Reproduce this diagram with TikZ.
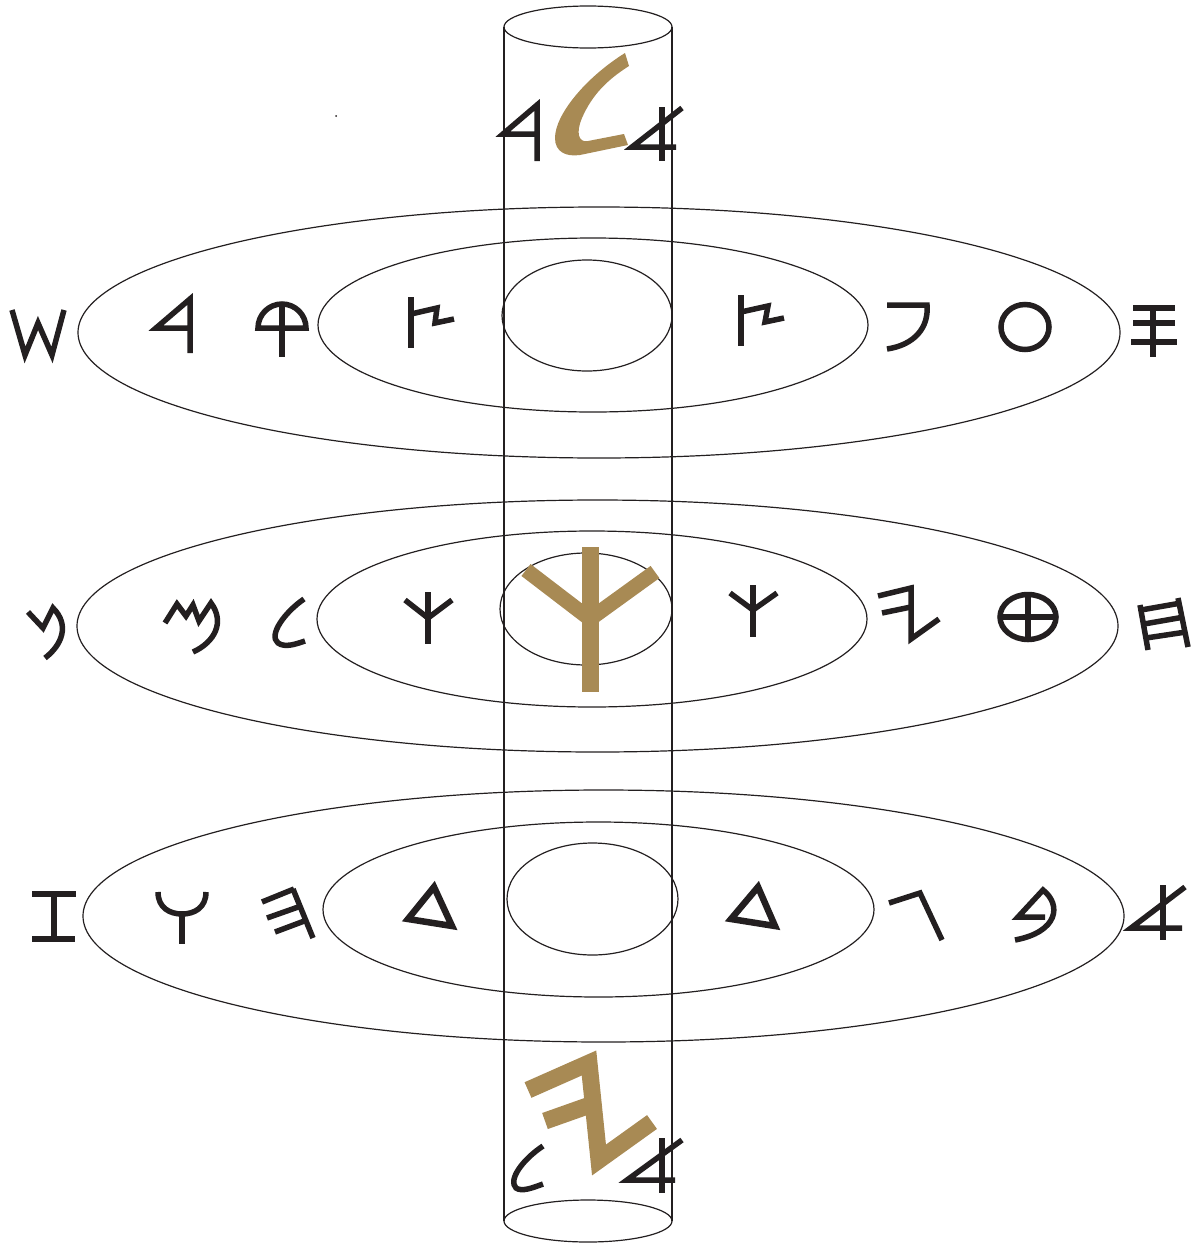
\documentclass[tikz,border=0pt]{standalone}
\usepackage{xcolor}
\usetikzlibrary{calc}
\definecolor{ink}{RGB}{35,31,32}
\definecolor{ochre}{RGB}{168,138,84}
\tikzset{
  rim/.style={draw=ink, line width=1.2},
  glyph/.style={draw=ink, line width=5.5, line join=miter},
  bigglyph/.style={draw=ochre, line width=17, line join=miter},
}

\begin{document}
\begin{tikzpicture}[x=1pt,y=-1pt]
\useasboundingbox (0,0) rectangle (1195,1245);

\coordinate (T) at (588,27);
\coordinate (B) at (588,1221);

% the column
\draw[rim] (T) ellipse[x radius=84, y radius=21];
\draw[rim] (B) ellipse[x radius=84, y radius=21];
\draw[rim] ($(T)+(-84,0)$) -- ($(B)+(-84,0)$);
\draw[rim] ($(T)+(84,0)$) -- ($(B)+(84,0)$);

% the three discs
\foreach \cx/\cy/\rx/\ry in {599/332.5/521/125.5, 593/325/275/87, 587/315.5/85/55.5,
  597.5/626/520.5/126, 592/619/275/88, 586/609/86/56,
  603.5/916/520.5/126, 598.5/909.5/275.5/87.5, 592.5/899/85.5/56}
  \draw[rim] (\cx,\cy) ellipse[x radius=\rx, y radius=\ry];

\fill[ink] (336,116) circle(1);

% top of the column
\draw[glyph] (537,161) -- (537,105) -- (503,134) -- (539,134);
\fill[ochre] (625,53) .. controls (585,78) and (555,115) .. (555,138)
  .. controls (555,152) and (566,157) .. (580,155) -- (628,145) -- (624,134)
  -- (588,141) .. controls (578,143) and (576,132) .. (582,118)
  .. controls (592,95) and (607,80) .. (629,66) -- cycle;
\draw[glyph] (662,107) -- (662,161);
\draw[glyph] (682,108) -- (632,147) -- (676,147);

% first disc
\draw[glyph] (12,310) -- (25,355) -- (38,323) -- (52,355) -- (64,310);
\draw[glyph] (190,353) -- (190,299) -- (156,328) -- (191,328);
\draw[glyph] (258,328) arc(180:360:24) -- cycle;
\draw[glyph] (282,303) -- (282,357);
\draw[glyph] (411,297) -- (411,348);
\draw[glyph] (411,314) -- (437,308) -- (435,323) -- (454,319);
\draw[glyph] (741,295) -- (741,346);
\draw[glyph] (741,312) -- (768,306) -- (765,322) -- (784,318);
\draw[glyph] (887,305) -- (927,305) .. controls (929,328) and (914,345) .. (887,349);
\draw[glyph] (1025,327) ellipse[x radius=24, y radius=22.5];
\draw[glyph] (1153,305) -- (1153,357);
\draw[glyph] (1133,308) -- (1175,308);
\draw[glyph] (1133,323) -- (1175,323);
\draw[glyph] (1131,342) -- (1177,342);

% second disc
\draw[glyph] (28,612) -- (43,628) -- (53,608) .. controls (70,625) and (62,645) .. (45,658);
\draw[glyph] (165,623) -- (177,604) -- (186,616) -- (193,605) -- (199,621) -- (211,603)
  .. controls (225,622) and (215,642) .. (193,652);
\draw[glyph] (304,599) .. controls (285,612) and (268,635) .. (278,643)
  .. controls (285,648) and (296,644) .. (305,641);
\draw[glyph] (428,592) -- (428,644);
\draw[glyph] (405,600) -- (428,618) -- (452,600);
\draw[bigglyph] (590,547) -- (590,692);
\draw[bigglyph, line width=15] (526,570) -- (590,619) -- (655,572);
\draw[glyph] (753,585) -- (753,637);
\draw[glyph] (730,593) -- (753,610) -- (777,593);
\draw[glyph] (878,596) -- (911,588) -- (911,639) -- (939,619);
\draw[glyph] (882,613) -- (911,607);
\draw[glyph] (1028,617) ellipse[x radius=28, y radius=22.5];
\draw[glyph] (1000,617) -- (1056,617);
\draw[glyph] (1028,594) -- (1028,640);
\draw[glyph] (1140,605) -- (1148,650);
\draw[glyph] (1178,598) -- (1188,647);
\draw[glyph] (1141,610) -- (1181,603);
\draw[glyph] (1144,624) -- (1184,617);
\draw[glyph] (1146,638) -- (1186,632);

% third disc
\draw[glyph] (32,894) -- (76,894);
\draw[glyph] (32,939) -- (75,939);
\draw[glyph] (54,894) -- (54,939);
\draw[glyph] (158,892) .. controls (158,908) and (170,914) .. (182,914)
  .. controls (194,914) and (206,908) .. (206,892);
\draw[glyph] (182,914) -- (182,944);
\draw[glyph] (293,889) -- (313,938);
\draw[glyph] (294,889) -- (262,902);
\draw[glyph] (301,906) -- (267,918);
\draw[glyph] (307,920) -- (275,932);
\draw[glyph, line width=6.5] (434,887) -- (408,919) -- (452,926) -- cycle;
\draw[glyph, line width=6.5] (758,887) -- (731,919) -- (775,926) -- cycle;
\draw[glyph] (889,903) -- (920,893) -- (942,940);
\draw[glyph] (1045,917) -- (1018,917) -- (1043,890) .. controls (1062,905) and (1058,932) .. (1015,940);
\draw[glyph] (1163,885) -- (1163,940);
\draw[glyph] (1185,887) -- (1131,928) -- (1182,928);

% foot of the column
\draw[bigglyph] (528,1090) -- (589,1063) -- (599,1160) -- (652,1122);
\draw[bigglyph] (545,1121) -- (593,1104);
\draw[glyph] (543,1146) .. controls (522,1160) and (508,1180) .. (516,1188)
  .. controls (522,1192) and (532,1188) .. (543,1184);
\draw[glyph] (662,1138) -- (662,1193);
\draw[glyph] (682,1140) -- (627,1180) -- (675,1180);

\end{tikzpicture}
\end{document}
